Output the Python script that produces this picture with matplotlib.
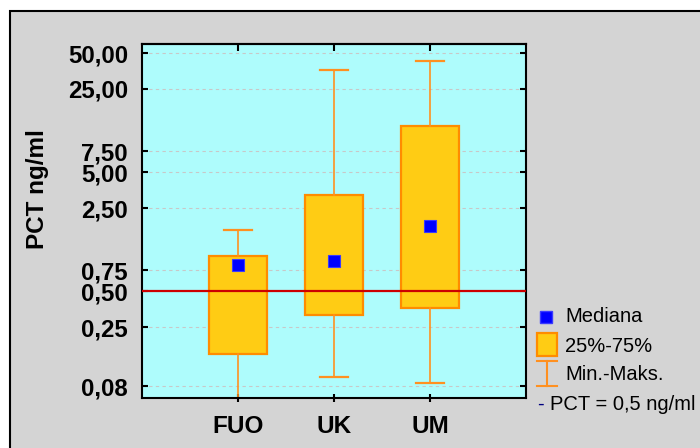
import numpy as np
import matplotlib
matplotlib.use("Agg")
import matplotlib.pyplot as plt
from matplotlib.patches import Rectangle
from matplotlib.lines import Line2D
from matplotlib.ticker import FixedLocator, FuncFormatter, NullLocator

plt.rcParams['font.family'] = ['Liberation Sans', 'DejaVu Sans']

# ---- data ----
groups = ["FUO", "UK", "UM"]
mins = [0.05, 0.095, 0.085]
q1 = [0.148, 0.318, 0.36]
medians = [0.83, 0.90, 1.75]
q3 = [0.99, 3.24, 12.2]
maxs = [1.63, 36.0, 42.7]
cutoff = 0.5
ytick_vals = [0.08, 0.25, 0.50, 0.75, 2.50, 5.00, 7.50, 25.00, 50.00]
legend_labels = ["Mediana", "25%-75%", "Min.-Maks.", "PCT = 0,5 ng/ml"]

# ---- colours ----
bg_gray = '#d4d4d4'
plot_cyan = '#aefcfc'
box_fill = '#ffcc14'
box_edge = '#ff8c00'
whisk_col = '#ff9020'
red_line = '#cc0000'
med_blue = '#0000ff'

W, H = 700, 448
fig = plt.figure(figsize=(W / 100, H / 100), dpi=100)
fig.patch.set_facecolor('white')


def fx(x):
    return x / W


def fy(y):
    return 1 - y / H


fig.add_artist(Rectangle((fx(10), -0.1), 1.2, fy(11) + 0.1,
                         transform=fig.transFigure, facecolor=bg_gray,
                         edgecolor='black', linewidth=1.5, zorder=-1))

ax = fig.add_axes([fx(142), fy(398), 384 / W, 354 / H])
ax.set_facecolor(plot_cyan)

positions = np.arange(1, len(groups) + 1)
stats = [dict(label=g, whislo=lo, q1=a, med=m, q3=b, whishi=hi)
         for g, lo, a, m, b, hi in zip(groups, mins, q1, medians, q3, maxs)]
ax.bxp(stats, positions=positions, widths=0.61, capwidths=0.3,
       showfliers=False, patch_artist=True,
       boxprops=dict(facecolor=box_fill, edgecolor=box_edge, linewidth=1.6),
       whiskerprops=dict(color=whisk_col, linewidth=1.2),
       capprops=dict(color=whisk_col, linewidth=1.6),
       medianprops=dict(visible=False), zorder=2)
ax.plot(positions, medians, 's', color=med_blue, markersize=8,
        markeredgecolor='#3a3aff', markeredgewidth=0.8, zorder=4)
ax.axhline(cutoff, color=red_line, linewidth=1.6, zorder=3)

ax.set_yscale('log')
ax.set_ylim(0.0635, 59.6)
ax.set_xlim(0, 4)
ax.yaxis.set_major_locator(FixedLocator(ytick_vals))
ax.yaxis.set_minor_locator(NullLocator())
ax.yaxis.set_major_formatter(FuncFormatter(lambda v, p: f"{v:.2f}".replace('.', ',')))
ax.set_xticks(positions)
ax.set_xticklabels(groups)
ax.grid(axis='y', linestyle=(0, (3, 3)), color='#c8c8c8', linewidth=0.8, zorder=0)
ax.set_axisbelow(True)

ax.tick_params(axis='y', which='major', direction='in', length=4, width=1.5,
               left=True, right=True, labelsize=17.3, pad=10)
ax.tick_params(axis='x', which='major', direction='inout', length=6, width=1.5,
               top=False, labelsize=17.5, pad=9)
for lab in ax.get_yticklabels() + ax.get_xticklabels():
    lab.set_fontweight('bold')
for sp in ax.spines.values():
    sp.set_linewidth(1.5)

# inward ticks along the top edge
top = ax.secondary_xaxis('top')
top.set_xticks(positions)
top.set_xticklabels([])
top.tick_params(direction='in', length=5, width=1.5)
top.spines['top'].set_linewidth(1.5)

ax.set_ylabel("PCT ng/ml", fontsize=17.5, fontweight='bold')
ax.yaxis.set_label_coords(-0.242, 0.59)

# ---- legend drawn by hand, outside the axes ----
fs = 14.5
# median marker
fig.add_artist(Line2D([fx(546)], [fy(317)], marker='s', linestyle='none',
                      color=med_blue, markeredgecolor='#3a3aff', markersize=8,
                      transform=fig.transFigure))
# box
fig.add_artist(Rectangle((fx(537), fy(356)), 20 / W, 23 / H,
                         transform=fig.transFigure, facecolor=box_fill,
                         edgecolor=box_edge, linewidth=1.6))
# whisker symbol
for xs, ys in [([547, 547], [361, 386]), ([537, 557], [361, 361]), ([537, 557], [386, 386])]:
    fig.add_artist(Line2D([fx(v) for v in xs], [fy(v) for v in ys], color=whisk_col,
                          linewidth=1.5, transform=fig.transFigure))
# cutoff dash
fig.text(fx(537), fy(404), "-", color='#000080', fontsize=fs, va='center', ha='left')

for lab, (x, y) in zip(legend_labels, [(565, 317), (565, 346), (565, 374), (550, 404)]):
    fig.text(fx(x), fy(y), lab, color='black', fontsize=fs, va='center', ha='left')

fig.savefig("out.png", dpi=100)
